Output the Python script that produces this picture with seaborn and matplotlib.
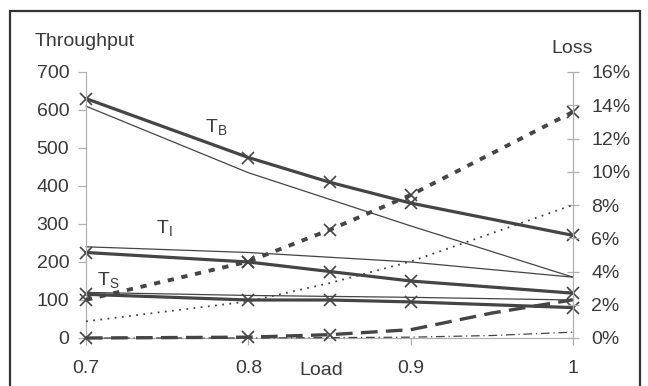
import matplotlib
matplotlib.use("Agg")
import matplotlib.pyplot as plt
import seaborn as sns
import numpy as np
from matplotlib.patches import Rectangle
from matplotlib.ticker import FuncFormatter

# ---- data ----
load5 = [0.7, 0.8, 0.85, 0.9, 1.0]
load4 = [0.7, 0.8, 0.9, 1.0]

tb_thick = [630, 475, 410, 355, 270]
tb_thin = [610, 435, 295, 160]
ti_thick = [225, 200, 175, 150, 118]
ti_thin = [240, 225, 200, 160]
ts_thick = [115, 100, 100, 95, 80]
ts_thin_load = [0.7, 0.8, 0.9, 1.0]
ts_thin = [120, 112, 107, 100]

loss_short_load = [0.7, 0.8, 0.85, 0.9, 1.0]
loss_short = [2.3, 4.6, 6.5, 8.6, 13.6]
loss_dot_load = [0.7, 0.75, 0.8, 0.85, 0.9, 0.95, 1.0]
loss_dot = [1.0, 1.6, 2.2, 3.3, 4.6, 6.3, 8.0]
loss_long_load = [0.7, 0.8, 0.85, 0.9, 0.95, 1.0]
loss_long = [0.0, 0.05, 0.2, 0.5, 1.5, 2.3]
loss_dd_load = [0.7, 0.8, 0.9, 0.95, 1.0]
loss_dd = [0.0, 0.0, 0.05, 0.15, 0.35]

x_ticks = [0.7, 0.8, 0.9, 1.0]
x_tick_labels = ["0.7", "0.8", "0.9", "1"]
y_ticks = [0, 100, 200, 300, 400, 500, 600, 700]
loss_ticks = [0, 2, 4, 6, 8, 10, 12, 14, 16]

# ---- style ----
sns.set_style("white")
plt.rcParams["font.family"] = ["Liberation Sans", "DejaVu Sans"]
LINE = "#454545"
TXT = "#3a3a3a"
AX = "#b0b0b0"
FS = 14

fig = plt.figure(figsize=(6.48, 3.86), dpi=100)
ax = fig.add_axes([86 / 648, 1 - 338 / 386, (573 - 86) / 648, (338 - 72) / 386])
ax2 = ax.twinx()

thick = 2.3
thin = 0.9
mk = dict(marker="x", ms=8, mew=1.2, mec=LINE, mfc="none", clip_on=False)

# throughput series
sns.lineplot(x=load5, y=tb_thick, ax=ax, color=LINE, lw=thick, **mk)
sns.lineplot(x=load4, y=tb_thin, ax=ax, color=LINE, lw=thin, clip_on=False)
sns.lineplot(x=load5, y=ti_thick, ax=ax, color=LINE, lw=thick, **mk)
sns.lineplot(x=load4, y=ti_thin, ax=ax, color=LINE, lw=thin, clip_on=False)
sns.lineplot(x=load5, y=ts_thick, ax=ax, color=LINE, lw=thick, **mk)
sns.lineplot(x=ts_thin_load, y=ts_thin, ax=ax, color=LINE, lw=thin, clip_on=False)

# loss series (right axis)
sns.lineplot(x=loss_short_load, y=loss_short, ax=ax2, color=LINE, lw=2.8,
             linestyle=(0, (1.6, 2.0)), **mk)
sns.lineplot(x=loss_dot_load, y=loss_dot, ax=ax2, color=LINE, lw=1.3,
             linestyle=(0, (1, 3)), clip_on=False)
sns.lineplot(x=loss_long_load, y=loss_long, ax=ax2, color=LINE, lw=2.4,
             linestyle=(0, (5, 2.5)), clip_on=False)
sns.lineplot(x=loss_long_load[:3], y=loss_long[:3], ax=ax2, color=LINE, lw=0, **mk)
sns.lineplot(x=loss_dd_load, y=loss_dd, ax=ax2, color=LINE, lw=0.9,
             linestyle=(0, (7, 3, 1, 3)), clip_on=False)

# axes limits / ticks
ax.set_xlim(0.7, 1.0)
ax.set_ylim(0, 700)
ax2.set_ylim(0, 16)
ax.set_xticks(x_ticks)
ax.set_xticklabels(x_tick_labels)
ax.set_yticks(y_ticks)
ax2.set_yticks(loss_ticks)
ax2.yaxis.set_major_formatter(FuncFormatter(lambda v, p: f"{int(v)}%"))

for a in (ax, ax2):
    a.set_xlabel("")
    a.set_ylabel("")
    a.grid(False)
    for s in a.spines.values():
        s.set_visible(False)

ax.spines["left"].set_visible(True)
ax.spines["left"].set_color(AX)
ax.spines["left"].set_linewidth(0.9)
ax.spines["bottom"].set_visible(True)
ax.spines["bottom"].set_color(AX)
ax.spines["bottom"].set_linewidth(0.9)
ax2.spines["right"].set_visible(True)
ax2.spines["right"].set_color(AX)
ax2.spines["right"].set_linewidth(0.9)

ax.tick_params(axis="y", which="major", direction="out", length=6, width=0.9,
               color=AX, labelsize=FS, labelcolor=TXT, pad=6, left=True)
ax.tick_params(axis="x", which="major", direction="out", length=5, width=0.9,
               color=AX, labelsize=FS, labelcolor=TXT, pad=11, bottom=True)
ax2.tick_params(axis="y", which="major", direction="inout", length=8, width=0.9,
                color=AX, labelsize=FS, labelcolor=TXT, pad=9, right=True)

# in-plot labels
ax.text(0.7733, 542, r"$\mathregular{T_B}$", fontsize=FS, color=TXT)
ax.text(0.743, 276, r"$\mathregular{T_I}$", fontsize=FS, color=TXT)
ax.text(0.7068, 140, r"$\mathregular{T_S}$", fontsize=FS, color=TXT)

# axis titles
fig.text(35 / 648, 1 - 46 / 386, "Throughput", fontsize=FS, color=TXT, ha="left", va="baseline")
fig.text(551 / 648, 1 - 53 / 386, "Loss", fontsize=FS, color=TXT, ha="left", va="baseline")
fig.text(321 / 648, 1 - 375 / 386, "Load", fontsize=FS, color=TXT, ha="center", va="baseline")

# outer frame
fig.patches.append(Rectangle((10 / 648, -0.02), 630 / 648, (386 - 10) / 386 + 0.02 - 0.002,
                             transform=fig.transFigure, fill=False, lw=1.6,
                             edgecolor="#333333", zorder=0))

fig.savefig("out.png", dpi=100)
